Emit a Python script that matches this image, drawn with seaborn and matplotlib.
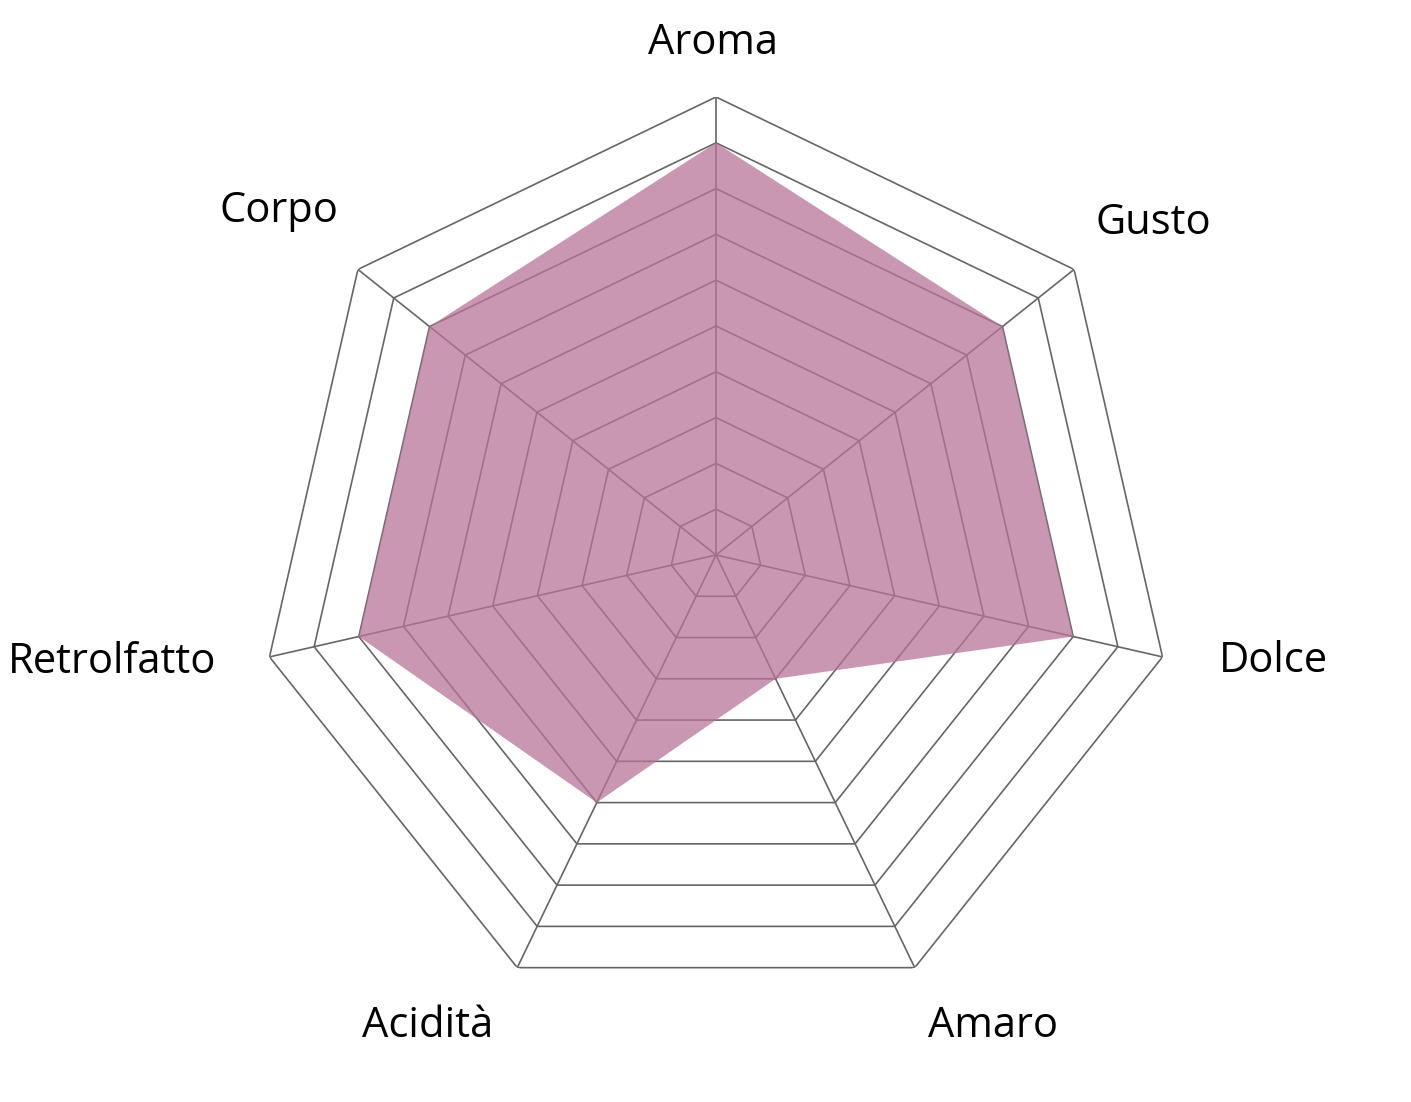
import numpy as np
import pandas as pd
import seaborn as sns
import matplotlib.pyplot as plt

labels = ['Aroma', 'Gusto', 'Dolce', 'Amaro', 'Acidità', 'Retrolfatto', 'Corpo']
values = [9, 8, 8, 3, 6, 8, 8]
levels = list(range(1, 11))

# label offsets from outer vertex (pixels) and alignment
label_offsets = [(-3, 43), (21, 35), (56, -15), (13, -69), (-24, -69), (-53, -16), (-20, 47)]
label_ha = ['center', 'left', 'left', 'left', 'right', 'right', 'right']

sns.set_theme(style='white')
plt.rcParams['font.family'] = ['Open Sans', 'DejaVu Sans']

n = len(labels)
theta = np.arange(n) * 2 * np.pi / n
theta_closed = np.append(theta, theta[0])

fig = plt.figure(figsize=(14.11, 11.02), dpi=100)
W, H = 1411, 1102
cx, cy, R = 716, 555, 458
ax = fig.add_axes([(cx - R) / W, (H - cy - R) / H, 2 * R / W, 2 * R / H], projection='polar')
ax.set_theta_zero_location('N')
ax.set_theta_direction(-1)
ax.set_ylim(0, 10)
ax.grid(False)
ax.spines['polar'].set_visible(False)
ax.set_xticks([])
ax.set_yticks([])
ax.patch.set_alpha(0)

grid_color = '#666666'
for lv in levels:
    ring = pd.DataFrame({'t': theta_closed, 'r': [lv] * (n + 1)})
    sns.lineplot(data=ring, x='t', y='r', sort=False, estimator=None,
                 color=grid_color, lw=1.2, ax=ax)
for t in theta:
    ax.plot([t, t], [0, 10], color=grid_color, lw=1.2)

vals_closed = values + values[:1]
ax.fill(theta_closed, vals_closed, color=(183 / 255, 116 / 255, 152 / 255), alpha=0.75, lw=0, zorder=3)

for t, lab, off, ha in zip(theta, labels, label_offsets, label_ha):
    ax.annotate(lab, xy=(t, 10), xytext=off, textcoords='offset pixels',
                ha=ha, va='baseline', fontsize=30, color='black', annotation_clip=False)

ax.set_xlabel('')
ax.set_ylabel('')
fig.savefig('out.png', dpi=100)
